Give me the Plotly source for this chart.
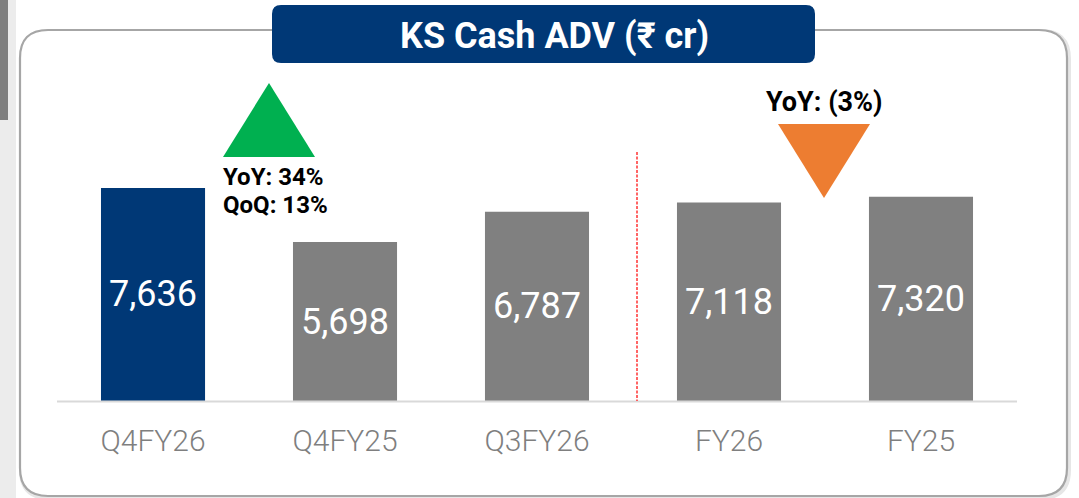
import plotly.graph_objects as go

# data
categories = ["Q4FY26", "Q4FY25", "Q3FY26", "FY26", "FY25"]
adv_values = [7636, 5698, 6787, 7118, 7320]
bar_colors = ["#003876", "#808080", "#808080", "#808080", "#808080"]

W, H = 1079, 498
BASE = 401  # pixel row of the x axis


def px(x, y):
    """pixel position -> paper coords"""
    return x / W, (BASE - y) / BASE


def path(points, closed=True):
    parts = []
    for i, (x, y) in enumerate(points):
        a, b = px(x, y)
        parts.append(("M" if i == 0 else "L") + f"{a:.5f},{b:.5f}")
    return " ".join(parts) + (" Z" if closed else "")


def rounded_rect(x0, y0, x1, y1, r):
    pts = lambda x, y: "%.5f,%.5f" % px(x, y)
    return (f"M{pts(x0 + r, y0)} L{pts(x1 - r, y0)} Q{pts(x1, y0)} {pts(x1, y0 + r)} "
            f"L{pts(x1, y1 - r)} Q{pts(x1, y1)} {pts(x1 - r, y1)} "
            f"L{pts(x0 + r, y1)} Q{pts(x0, y1)} {pts(x0, y1 - r)} "
            f"L{pts(x0, y0 + r)} Q{pts(x0, y0)} {pts(x0 + r, y0)} Z")


fig = go.Figure()
fig.add_trace(go.Bar(
    x=categories, y=adv_values,
    marker=dict(color=bar_colors, line=dict(width=0)),
    width=0.542,
    text=[f"{v:,}" for v in adv_values],
    textposition="inside", insidetextanchor="middle",
    textfont=dict(family="Roboto", size=36, color="white"),
    cliponaxis=False,
    hoverinfo="skip",
))

shapes = [
    # faint shadow + card border
    dict(type="path", xref="paper", yref="paper", path=rounded_rect(21, 31, 1069, 498, 28),
         line=dict(color="#e6e6e6", width=4), layer="below"),
    dict(type="path", xref="paper", yref="paper", path=rounded_rect(20, 30, 1067, 496, 28),
         line=dict(color="#a6a6a6", width=2.2), fillcolor="white", layer="below"),
    # title box
    dict(type="path", xref="paper", yref="paper", path=rounded_rect(272, 5, 815, 63, 9),
         line=dict(width=0), fillcolor="#003876"),
    # stray bits on the left edge
    dict(type="rect", xref="paper", yref="paper", x0=0, x1=px(16, 0)[0], y0=px(0, 498)[1], y1=px(0, 0)[1],
         line=dict(width=0), fillcolor="#ececec", layer="below"),
    dict(type="rect", xref="paper", yref="paper", x0=0, x1=px(8, 0)[0], y0=px(0, 120)[1], y1=px(0, 0)[1],
         line=dict(width=0), fillcolor="#7f7f7f", layer="below"),
    # baseline
    dict(type="line", xref="paper", yref="paper", x0=px(57, 0)[0], x1=px(1017, 0)[0],
         y0=px(0, 401.5)[1], y1=px(0, 401.5)[1], line=dict(color="#d9d9d9", width=2)),
    # red dashed separator
    dict(type="line", xref="paper", yref="paper", x0=px(637, 0)[0], x1=px(637, 0)[0],
         y0=px(0, 152)[1], y1=px(0, 401)[1], line=dict(color="#ff3333", width=1.5, dash="3px,1.5px")),
    # green up triangle
    dict(type="path", xref="paper", yref="paper", path=path([(223, 157), (269, 83), (315, 157)]),
         line=dict(width=0), fillcolor="#00b050"),
    # orange down triangle
    dict(type="path", xref="paper", yref="paper", path=path([(778, 124), (870, 124), (824, 198)]),
         line=dict(width=0), fillcolor="#ed7d31"),
]

annotations = []


def note(x, y, text, size, color="black", xanchor="center"):
    a, b = px(x, y)
    annotations.append(dict(x=a, y=b, xref="paper", yref="paper", text=text, showarrow=False,
                            xanchor=xanchor, yanchor="middle",
                            font=dict(family="Roboto", size=size, color=color, weight="bold")))


note(554, 36, "KS Cash ADV (₹ cr)", 36, "white")
note(221, 177, "YoY: 34%", 24, xanchor="left")
note(221, 205, "QoQ: 13%", 24, xanchor="left")
note(824, 102, "YoY: (3%)", 27)

fig.update_layout(
    width=W, height=H,
    margin=dict(l=0, r=0, t=0, b=H - BASE),
    paper_bgcolor="white", plot_bgcolor="rgba(0,0,0,0)",
    showlegend=False,
    shapes=shapes, annotations=annotations,
    xaxis=dict(range=[-0.797, 4.823], showgrid=False, zeroline=False, showline=False,
               ticks="", ticklabelstandoff=19,
               tickfont=dict(family="Roboto", size=30, color="#7f7f7f", weight=300)),
    yaxis=dict(range=[0, 14375], visible=False, showgrid=False),
)

# page body has a default 8px margin; drop it so the figure sits at the window corner
fig.write_html("out.html", config={"displayModeBar": False},
               post_script="document.body.style.margin='0';")
